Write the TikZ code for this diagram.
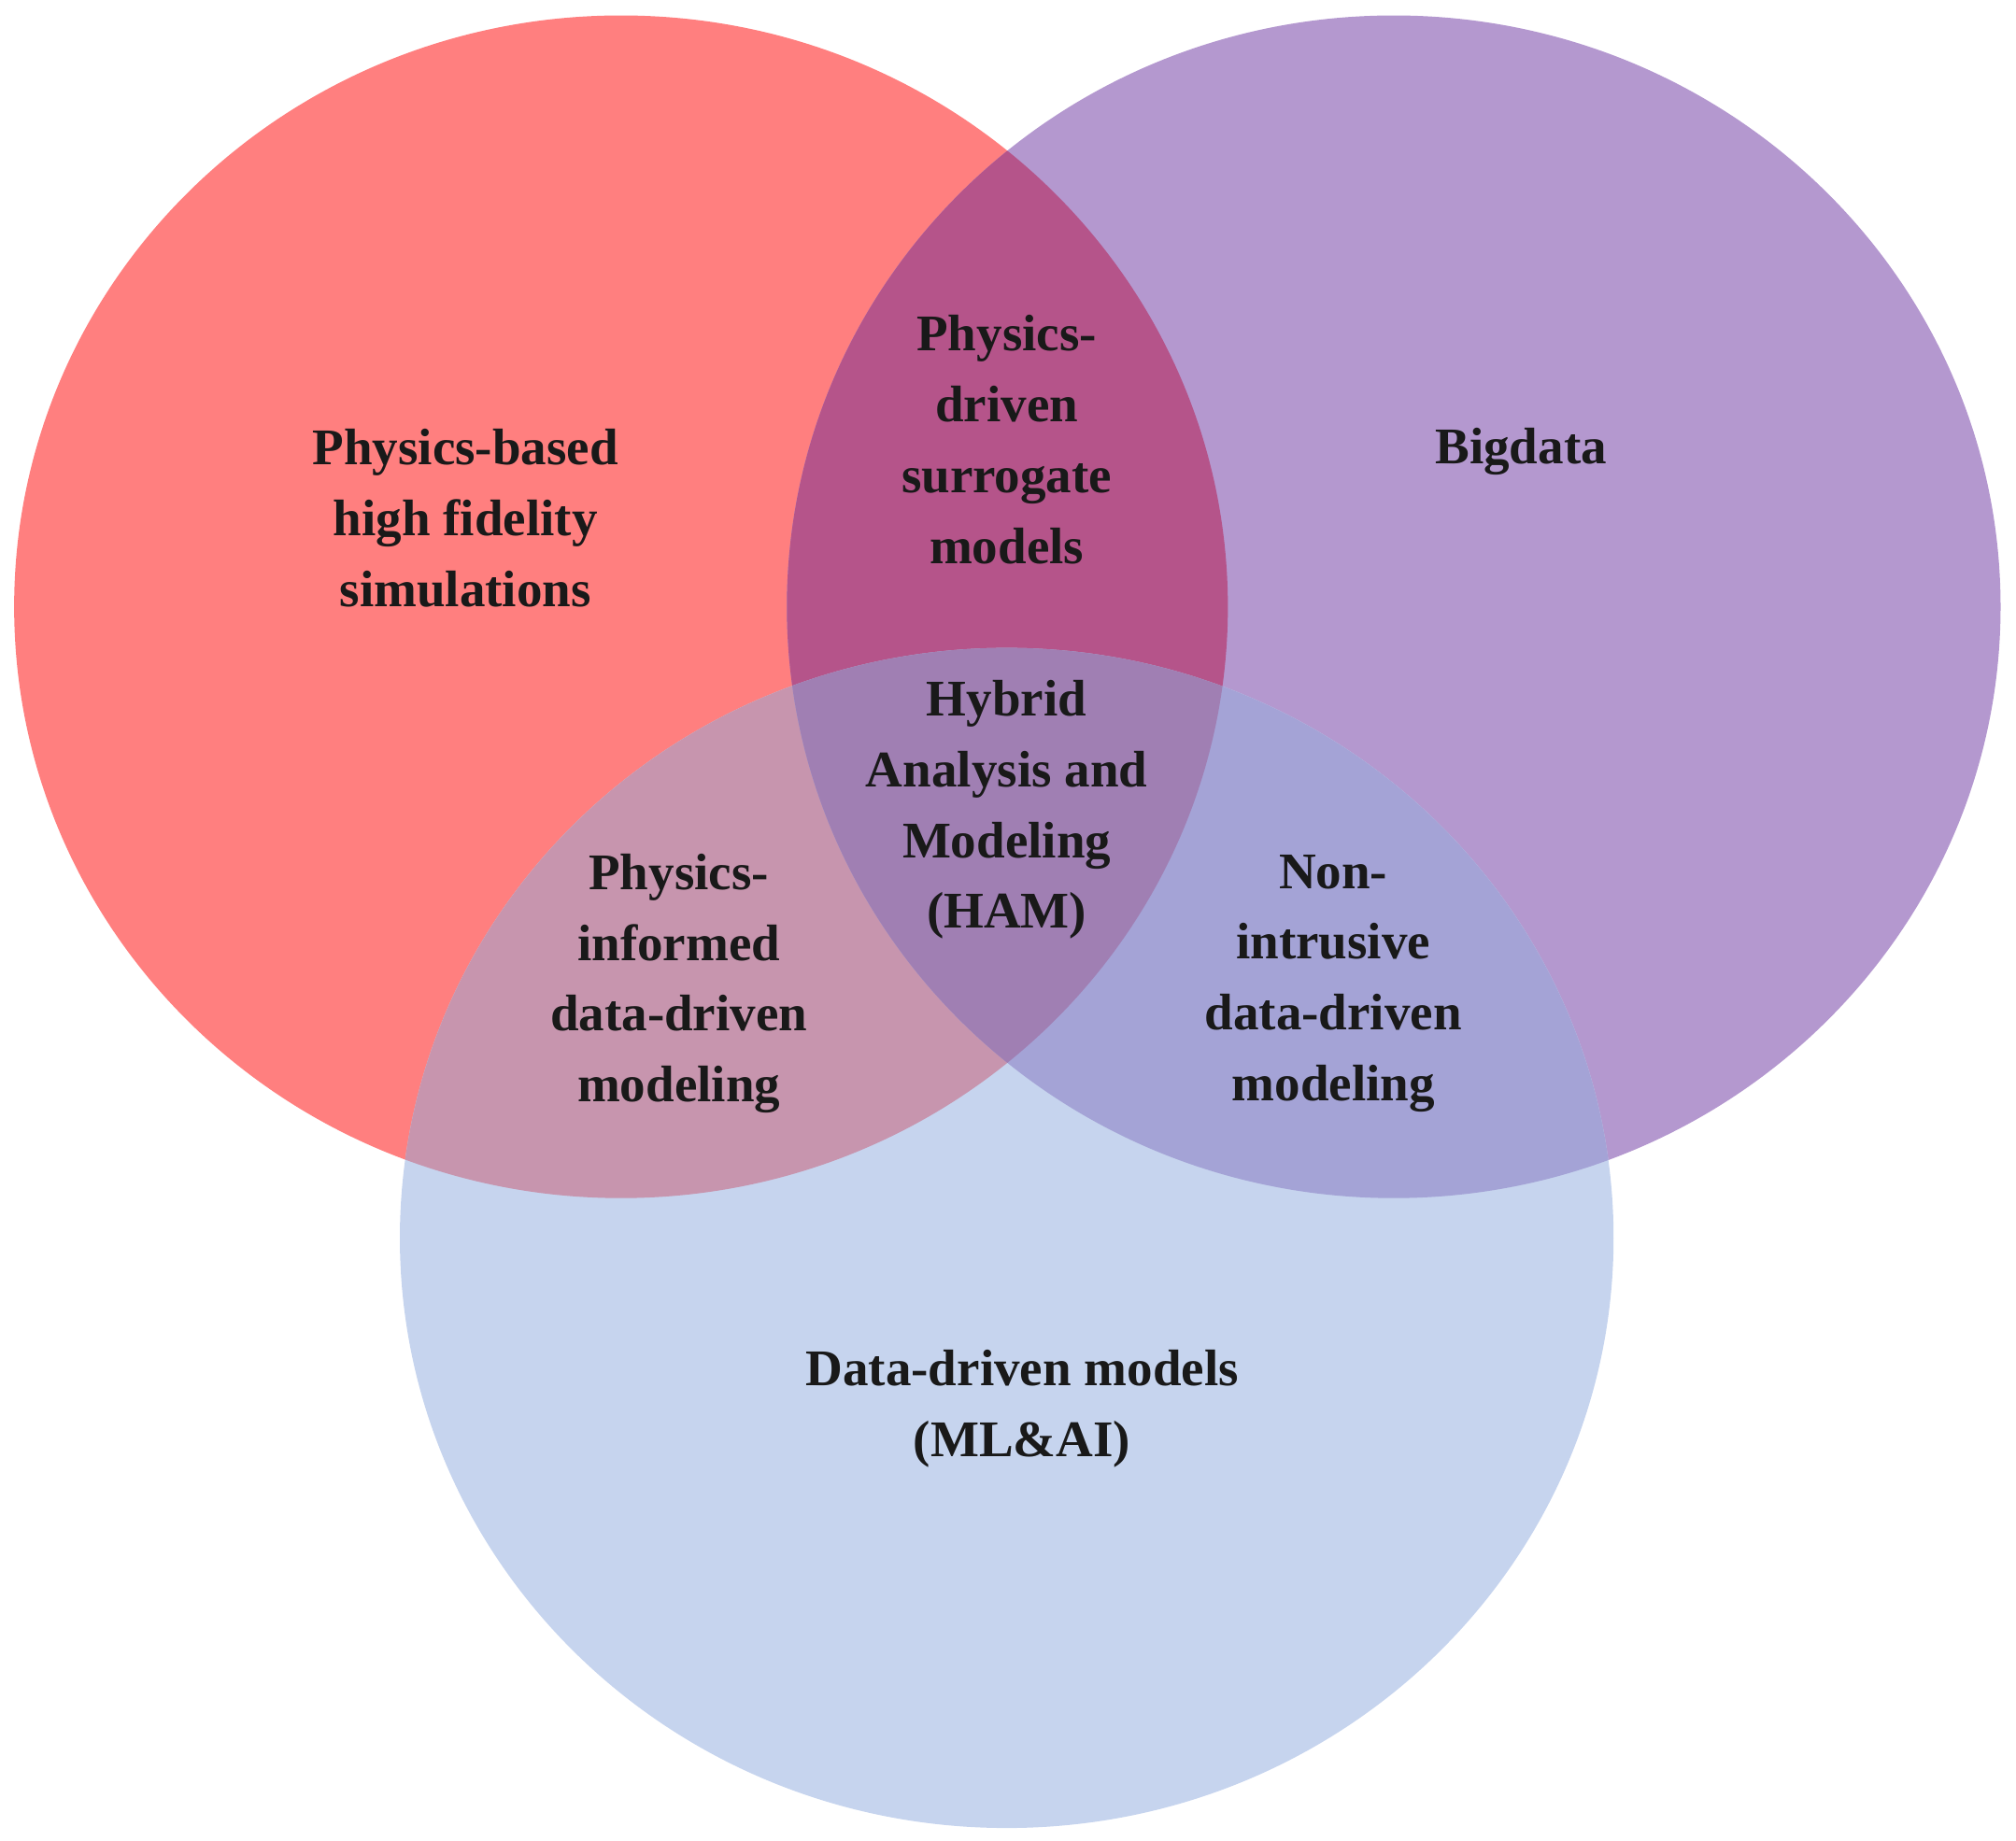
\documentclass[tikz,border=0pt]{standalone}
\usepackage{fontspec}
\setmainfont{Liberation Serif}
\begin{document}
\begin{tikzpicture}[x=1pt,y=-1pt,
  lab/.style={align=center,font=\fontsize{40}{55}\selectfont\bfseries,text=black!90}]
\definecolor{cR}{HTML}{FF7F7F}
\definecolor{cP}{HTML}{B498CF}
\definecolor{cB}{HTML}{C6D4EE}
\definecolor{cRP}{HTML}{B5548A}
\definecolor{cRB}{HTML}{C795AE}
\definecolor{cPB}{HTML}{A4A3D6}
\definecolor{cRPB}{HTML}{A07FB3}
\useasboundingbox (0,0) rectangle (1568,1432);
\def\R{(483,472) ellipse [x radius=472,y radius=460]}
\def\P{(1084,472) ellipse [x radius=472,y radius=460]}
\def\B{(783,963) ellipse [x radius=472,y radius=459]}
\fill[cR] \R; \fill[cP] \P; \fill[cB] \B;
\begin{scope}\clip \R; \fill[cRP] \P; \fill[cRB] \B; \end{scope}
\begin{scope}\clip \P; \fill[cPB] \B; \end{scope}
\begin{scope}\clip \R; \clip \P; \fill[cRPB] \B; \end{scope}
\node[lab] (a) at (362,403) {Physics-based\\high fidelity\\simulations};
\node[lab] (b) at (1183,351) {Bigdata};
\node[lab] (c) at (783,342) {Physics-\\driven\\surrogate\\models};
\node[lab] (d) at (783,630) {Hybrid\\Analysis and\\Modeling\\(HAM)};
\node[lab] (e) at (528,765) {Physics-\\informed\\data-driven\\modeling};
\node[lab] (f) at (1037,765) {Non-\\intrusive\\data-driven\\modeling};
\node[lab] (g) at (795,1096) {Data-driven models\\(ML\&AI)};
\end{tikzpicture}
\end{document}
